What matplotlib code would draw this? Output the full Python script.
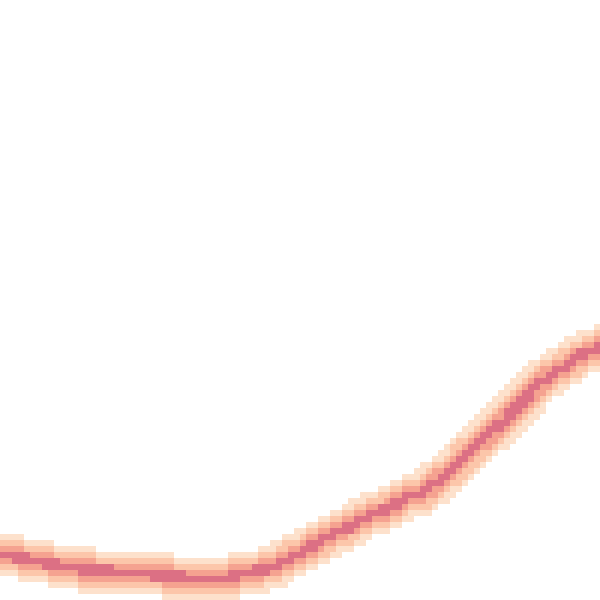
import numpy as np
import matplotlib
matplotlib.use("Agg")
import matplotlib.pyplot as plt
from matplotlib.colors import ListedColormap

# curve centre, grid units (0..100, y from bottom)
curve_x = [0, 5, 9.5, 14.2, 19.5, 25.8, 31.7, 35.5, 40, 43.7, 46.2, 48.7, 50.8,
           54.2, 56.3, 58.3, 60.5, 63.7, 65.8, 67.5, 70.3, 71.7, 73.3, 75, 76.7,
           78.3, 80, 81.7, 82.8, 83.8, 85.3, 87.8, 90, 92.2, 94.5, 96.7, 100]
curve_y = [7.7, 6.7, 5.8, 5.0, 4.7, 4.2, 3.7, 3.3, 4.2, 5.0, 5.8, 7.3, 8.2,
           10.3, 11.3, 12.2, 13.7, 14.8, 15.8, 17.0, 17.8, 18.8, 20.2, 21.3, 23.0,
           24.7, 26.2, 27.8, 28.8, 29.7, 31.3, 33.8, 36.2, 37.8, 39.2, 40.8, 42.0]

n_bins = 100
# distance bands (grid cells) and their shades, outermost first
band_edges = [3.6, 2.6, 1.6, 0.75]
shades = ["#ffffff", "#fde1cc", "#fcc6aa", "#f5a290", "#dc7084"]

# rasterise the curve onto the grid
xs, ys = [], []
for k in range(len(curve_x) - 1):
    t = np.linspace(0, 1, 40)
    xs.append(curve_x[k] + t * (curve_x[k + 1] - curve_x[k]))
    ys.append(curve_y[k] + t * (curve_y[k + 1] - curve_y[k]))
xs = np.concatenate(xs)
ys = np.concatenate(ys)

cx, cy = np.meshgrid(np.arange(n_bins) + 0.5, np.arange(n_bins) + 0.5)
dist = np.full(cx.shape, np.inf)
for px, py in zip(xs, ys):
    dist = np.minimum(dist, np.hypot(cx - px, cy - py))

grid = np.zeros(cx.shape)
for level, edge in enumerate(band_edges, start=1):
    grid[dist < edge] = level

fig = plt.figure(figsize=(6, 6), dpi=100, facecolor="white")
ax = fig.add_axes([0, 0, 1, 1])
ax.imshow(grid, cmap=ListedColormap(shades), vmin=-0.5, vmax=4.5,
          origin="lower", extent=[0, 100, 0, 100], interpolation="nearest")
ax.set_xlim(0, 100)
ax.set_ylim(0, 100)
ax.axis("off")

plt.savefig("out.png", dpi=100, facecolor="white")
